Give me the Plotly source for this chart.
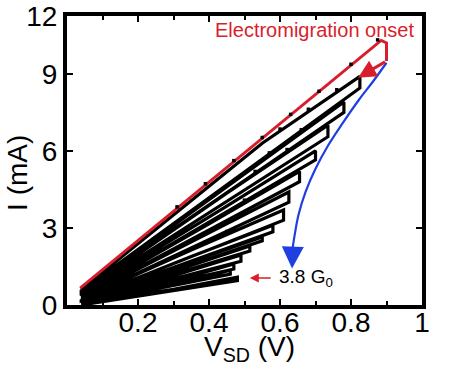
import plotly.graph_objects as go

# ---------------- data ----------------
# red (first) sweep: forward ramp, small step, drop at onset
red_v = [0.037, 0.885, 0.90, 0.90]
red_i = [0.66, 10.3, 10.2, 9.5]
red_return_v = [0.90, 0.82]
red_return_i = [9.5, 8.85]
# small spikes sitting on the red sweep
red_bump_v = [0.31, 0.39, 0.47, 0.55, 0.63, 0.71, 0.80, 0.875]
red_bump_i = [3.82, 4.72, 5.62, 6.52, 7.42, 8.32, 9.37, 10.32]

# black feedback-controlled sweeps: start at V_min, ramp (through a knee) to V_max,
# drop, sweep back to V_min
v_min = 0.04
loop_vmax   = [0.825, 0.78, 0.735, 0.70, 0.655, 0.625, 0.61, 0.58, 0.55, 0.515, 0.49, 0.47, 0.46, 0.48]
loop_itop   = [8.9, 7.9, 7.0, 6.0, 5.2, 4.4, 3.7, 3.1, 2.65, 2.3, 1.95, 1.6, 1.35, 1.08]
loop_ibot   = [8.45, 7.5, 6.55, 5.65, 4.8, 4.0, 3.3, 2.85, 2.5, 2.1, 1.7, 1.4, 1.2, 0.95]
loop_istart = [0.60, 0.50, 0.44, 0.37, 0.32, 0.27, 0.22, 0.19, 0.16, 0.13, 0.11, 0.09, 0.07, 0.05]
loop_iend   = [0.55, 0.48, 0.41, 0.34, 0.30, 0.25, 0.20, 0.17, 0.14, 0.12, 0.10, 0.08, 0.06, 0.0]
loop_vknee  = [0.55, 0.50, 0.45, 0.45, 0.40, 0.40, 0.35, 0.35, 0.30, 0.30, 0.30, 0.30, 0.30, 0.30]
loop_iknee  = [6.3, 5.1, 4.35, 3.85, 3.16, 2.81, 2.14, 1.89, 1.46, 1.31, 1.14, 0.94, 0.78, 0.61]
# small spikes sitting on the black sweeps
black_bump_v = [0.60, 0.68, 0.76, 0.57, 0.66, 0.53, 0.62, 0.50, 0.45]
black_bump_i = [6.85, 7.62, 8.38, 5.92, 6.82, 5.2, 6.05, 4.08, 2.86]

# blue guide arrow (envelope of the breaking points)
blue_v = [0.90, 0.862, 0.823, 0.777, 0.735, 0.70, 0.672, 0.652, 0.641, 0.636]
blue_i = [9.43, 8.70, 8.00, 7.09, 6.20, 5.30, 4.40, 3.50, 2.70, 2.25]
blue_tip = (0.634, 1.42)

x_tick_vals = [0.2, 0.4, 0.6, 0.8, 1.0]
x_tick_text = ["0.2", "0.4", "0.6", "0.8", "1"]
x_minor_vals = [0.1, 0.3, 0.5, 0.7, 0.9]
y_tick_vals = [0, 3, 6, 9, 11.25]
y_tick_text = ["0", "3", "6", "9", "12"]

# ---------------- build ----------------
bx, by = [], []
for vm, it, ib, i0, i1, vk, ik in zip(loop_vmax, loop_itop, loop_ibot, loop_istart,
                                      loop_iend, loop_vknee, loop_iknee):
    bx += [v_min, vk, vm, vm, v_min]
    by += [i0, ik, it, ib, i1]

FONT = "Arial, 'Liberation Sans', Helvetica, sans-serif"
RED = "#d81e2c"
BLUE = "#1f3fe0"

fig = go.Figure()
fig.add_trace(go.Scatter(x=bx, y=by, mode="lines",
                         line=dict(color="black", width=3.2), showlegend=False))
fig.add_trace(go.Scatter(x=black_bump_v, y=black_bump_i, mode="markers",
                         marker=dict(color="black", size=3.5, symbol="square"),
                         showlegend=False))
fig.add_trace(go.Scatter(x=red_v, y=red_i, mode="lines",
                         line=dict(color=RED, width=3), showlegend=False))
fig.add_trace(go.Scatter(x=red_bump_v, y=red_bump_i, mode="markers",
                         marker=dict(color="black", size=3.5, symbol="square"),
                         showlegend=False))
fig.add_trace(go.Scatter(x=blue_v, y=blue_i, mode="lines",
                         line=dict(color=BLUE, width=2.2, shape="spline"), showlegend=False))

annotations = [
    dict(x=red_return_v[1], y=red_return_i[1], ax=red_return_v[0], ay=red_return_i[0],
         xref="x", yref="y", axref="x", ayref="y", text="", showarrow=True,
         arrowhead=2, arrowsize=1.2, arrowwidth=3, arrowcolor=RED, standoff=0),
    dict(x=blue_tip[0], y=blue_tip[1], ax=blue_v[-1], ay=blue_i[-1],
         xref="x", yref="y", axref="x", ayref="y", text="", showarrow=True,
         arrowhead=2, arrowsize=2.0, arrowwidth=2.2, arrowcolor=BLUE, standoff=0),
    dict(x=0.515, y=1.05, ax=0.578, ay=1.05,
         xref="x", yref="y", axref="x", ayref="y", text="", showarrow=True,
         arrowhead=2, arrowsize=1.2, arrowwidth=1.5, arrowcolor=RED, standoff=0),
    dict(x=0.411, y=10.72, xref="x", yref="y", text="Electromigration onset",
         showarrow=False, xanchor="left", yanchor="middle",
         font=dict(family=FONT, size=20, color=RED)),
    dict(x=0.592, y=1.05, xref="x", yref="y", text="3.8 G<sub>0</sub>",
         showarrow=False, xanchor="left", yanchor="middle",
         font=dict(family=FONT, size=19, color="black")),
    dict(x=0, y=0.457, xref="paper", yref="paper", xshift=-49, text="I (mA)",
         showarrow=False, textangle=-90, xanchor="center", yanchor="middle",
         font=dict(family=FONT, size=28, color="black")),
    dict(x=0.515, y=-0.15, xref="paper", yref="paper", text="V<sub>SD</sub> (V)",
         showarrow=False, xanchor="center", yanchor="middle",
         font=dict(family=FONT, size=28, color="black")),
]

axis_common = dict(showline=True, linewidth=4, linecolor="black", mirror="ticks",
                   ticks="inside", ticklen=6, tickwidth=2, tickcolor="black",
                   showgrid=False, zeroline=False, automargin=False,
                   tickfont=dict(family=FONT, size=28, color="black"))

fig.update_layout(
    template="none",
    width=459, height=386,
    margin=dict(l=67, r=37, t=16, b=81, pad=0, autoexpand=False),
    paper_bgcolor="white", plot_bgcolor="white",
    xaxis=dict(range=[0, 1], tickmode="array", tickvals=x_tick_vals, ticktext=x_tick_text,
               ticklabelstandoff=-11,
               minor=dict(tickmode="array", tickvals=x_minor_vals, ticks="inside",
                          ticklen=4, tickwidth=2, tickcolor="black"),
               **axis_common),
    yaxis=dict(range=[0, 11.25], tickmode="array", tickvals=y_tick_vals, ticktext=y_tick_text,
               **axis_common),
    annotations=annotations,
    showlegend=False,
)

fig.write_html("out.html", config={"displayModeBar": False},
               post_script="document.body.style.margin='0px';")
